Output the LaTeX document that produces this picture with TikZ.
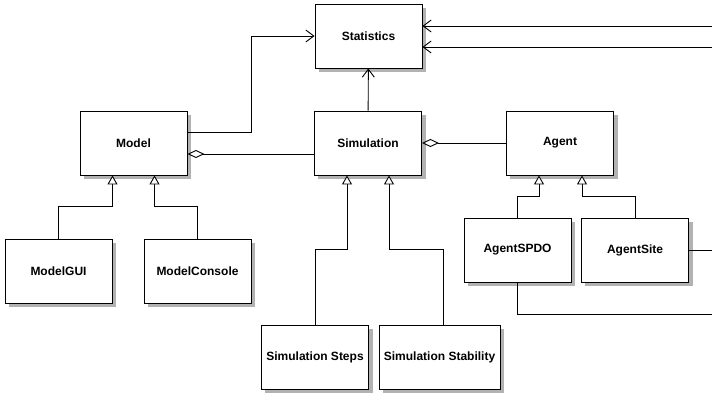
\documentclass[tikz,border=0pt]{standalone}
\usepackage{fontspec}
\setmainfont{Liberation Sans}
\usepackage{tikz}
\usetikzlibrary{positioning,arrows.meta}

\begin{document}
\begin{tikzpicture}[x=1pt, y=-1pt,
  cls/.style={draw, line width=0.9pt, fill=white, minimum width=107pt, minimum height=64pt,
    inner sep=0pt, font=\bfseries\fontsize{12}{14}\selectfont},
  clsshadow/.style={fill=black!30, draw=none},
  assoc/.style={line width=0.9pt, -{Straight Barb[length=8pt,width=12pt]}},
  aggr/.style={line width=0.9pt, {Diamond[open,length=17pt,width=8pt]}-},
  inh/.style={line width=0.9pt, -{Triangle[open,length=9pt,width=10pt,fill=white]}}]
\useasboundingbox (0,0) rectangle (712,393);

% classes
\node[cls] (stats) at (368.5,36) {Statistics};
\node[cls] (model) at (133.5,143) {Model};
\node[cls] (sim) at (368,143) {Simulation};
\node[cls] (agent) at (560,143) {Agent};
\node[cls] (gui) at (58.5,271) {ModelGUI};
\node[cls] (console) at (197.5,271) {ModelConsole};
\node[cls] (spdo) at (517.5,250) {AgentSPDO};
\node[cls] (site) at (635,250) {AgentSite};
\node[cls] (steps) at (315,357) {Simulation Steps};
\node[cls, minimum width=121pt] (stab) at (439.5,357) {Simulation Stability};

% shadows (right and bottom strips)
\foreach \n in {stats,model,sim,agent,gui,console,spdo,site,steps,stab} {
  \fill[clsshadow] ([shift={(0.5,4)}]\n.north east) rectangle ([shift={(4,4)}]\n.south east);
  \fill[clsshadow] ([shift={(4,0.5)}]\n.south west) rectangle ([shift={(4,4)}]\n.south east);
}

\begin{scope}
\clip (0,0) rectangle (712,393);
% routes leaving the picture on the right
\coordinate (r1) at (730,0);
\coordinate (r2) at (745,0);

% associations
\draw[assoc] (sim) -- (stats);
\draw[assoc] ([yshift=11pt]model.east) -- ++(64,0) |- (stats.west);
\draw[assoc] (site.east) -- (site.east -| r1) |- ([yshift=-11pt]stats.east);
\draw[assoc] (spdo.south) -- ++(0,32) coordinate (c) -- (c -| r2) |- ([yshift=10pt]stats.east);

% aggregations
\draw[aggr] ([yshift=-11pt]model.east) -- ([yshift=-11pt]model.east -| sim.west);
\draw[aggr] (sim.east) -- (agent.west);

% inheritance
\draw[inh] (gui.north) -- ++(0,-32) -| ([xshift=-21pt]model.south);
\draw[inh] (console.north) -- ++(0,-32) -| ([xshift=21pt]model.south);
\draw[inh] (spdo.north) -- ++(0,-21) -| ([xshift=-21pt]agent.south);
\draw[inh] (site.north) -- ++(0,-21) -| ([xshift=22pt]agent.south);
\draw[inh] (steps.north) -- ++(0,-75) -| ([xshift=-21pt]sim.south);
\draw[inh] ([xshift=3.5pt]stab.north) -- ++(0,-75) -| ([xshift=21pt]sim.south);
\end{scope}
\end{tikzpicture}
\end{document}
